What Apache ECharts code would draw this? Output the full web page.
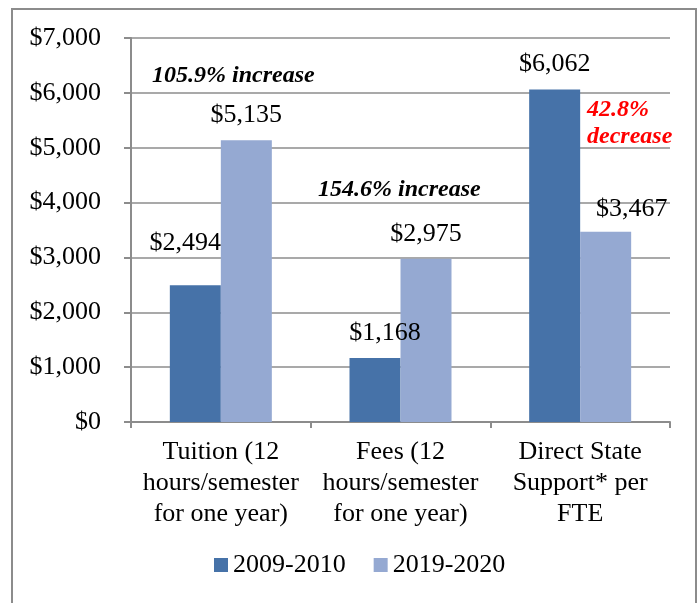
<!DOCTYPE html>
<html>
<head>
<meta charset="utf-8">
<script src="https://cdn.jsdelivr.net/npm/echarts@6/dist/echarts.min.js"></script>
<style>
  html, body { margin: 0; padding: 0; background: #fff; }
  #main { width: 700px; height: 603px; }
</style>
</head>
<body>
<div id="main"></div>
<script>
var categories = ['Tuition (12\nhours/semester\nfor one year)', 'Fees (12\nhours/semester\nfor one year)', 'Direct State\nSupport* per\nFTE'];
var seriesNames = ['2009-2010', '2019-2020'];
var values2009 = [2494, 1168, 6062];
var values2019 = [5135, 2975, 3467];
var yTicks = [0, 1000, 2000, 3000, 4000, 5000, 6000, 7000];

var serif = 'Liberation Serif';
var gridColor = '#8c8c8c';

function money(v) {
    return '$' + v.toLocaleString('en-US');
}

var chart = echarts.init(document.getElementById('main'));

// nudges for labels that sit off-centre in the original
var offsets2009 = [[-10, -17], [10, 0], [0, 0]];
var offsets2019 = [[0, 0], [0, 0], [26, 2]];

function barData(vals, offs) {
    return vals.map(function (v, i) {
        return { value: v, label: { offset: offs[i] } };
    });
}

var option = {
    animation: false,
    backgroundColor: '#fff',
    grid: { left: 131, right: 30, top: 38, bottom: 181 },
    legend: {
        data: seriesNames,
        top: 547,
        left: 209,
        itemWidth: 14,
        itemHeight: 14,
        itemGap: 28,
        icon: 'rect',
        textStyle: { fontFamily: serif, fontSize: 26, color: '#000' }
    },
    xAxis: {
        type: 'category',
        data: categories,
        axisLine: { lineStyle: { color: gridColor, width: 2 } },
        axisTick: { show: true, length: 6, lineStyle: { color: gridColor, width: 2 } },
        axisLabel: {
            fontFamily: serif, fontSize: 26, color: '#000',
            lineHeight: 31, margin: 15, interval: 0
        }
    },
    yAxis: {
        type: 'value',
        min: yTicks[0],
        max: yTicks[yTicks.length - 1],
        interval: 1000,
        axisLine: { show: true, lineStyle: { color: gridColor, width: 2 } },
        axisTick: { show: true, length: 7, lineStyle: { color: gridColor, width: 2 } },
        splitLine: { lineStyle: { color: gridColor, width: 1.5 } },
        axisLabel: {
            fontFamily: serif, fontSize: 26, color: '#000', margin: 30,
            formatter: function (v) { return money(v); }
        }
    },
    series: [
        {
            name: seriesNames[0],
            type: 'bar',
            data: barData(values2009, offsets2009),
            barWidth: 51,
            barGap: '0%',
            itemStyle: { color: '#4672A8' },
            label: {
                show: true, position: 'top', distance: 12,
                fontFamily: serif, fontSize: 26, color: '#000',
                formatter: function (p) { return money(p.value); }
            }
        },
        {
            name: seriesNames[1],
            type: 'bar',
            data: barData(values2019, offsets2019),
            barWidth: 51,
            itemStyle: { color: '#95A9D2' },
            label: {
                show: true, position: 'top', distance: 12,
                fontFamily: serif, fontSize: 26, color: '#000',
                formatter: function (p) { return money(p.value); }
            }
        }
    ],
    graphic: [
        {
            type: 'rect', silent: true, z: -1,
            shape: { x: 12, y: 9, width: 684, height: 600 },
            style: { fill: 'none', stroke: '#8c8c8c', lineWidth: 2 }
        },
        {
            type: 'text', left: 152, top: 64,
            style: { text: '105.9% increase', font: 'italic bold 24px "Liberation Serif"', fill: '#000' }
        },
        {
            type: 'text', left: 318, top: 178,
            style: { text: '154.6% increase', font: 'italic bold 24px "Liberation Serif"', fill: '#000' }
        },
        {
            type: 'text', left: 587, top: 96,
            style: { text: '42.8%\ndecrease', font: 'italic bold 24px "Liberation Serif"', fill: '#ff0000', lineHeight: 27 }
        }
    ]
};

chart.setOption(option);
</script>
</body>
</html>
